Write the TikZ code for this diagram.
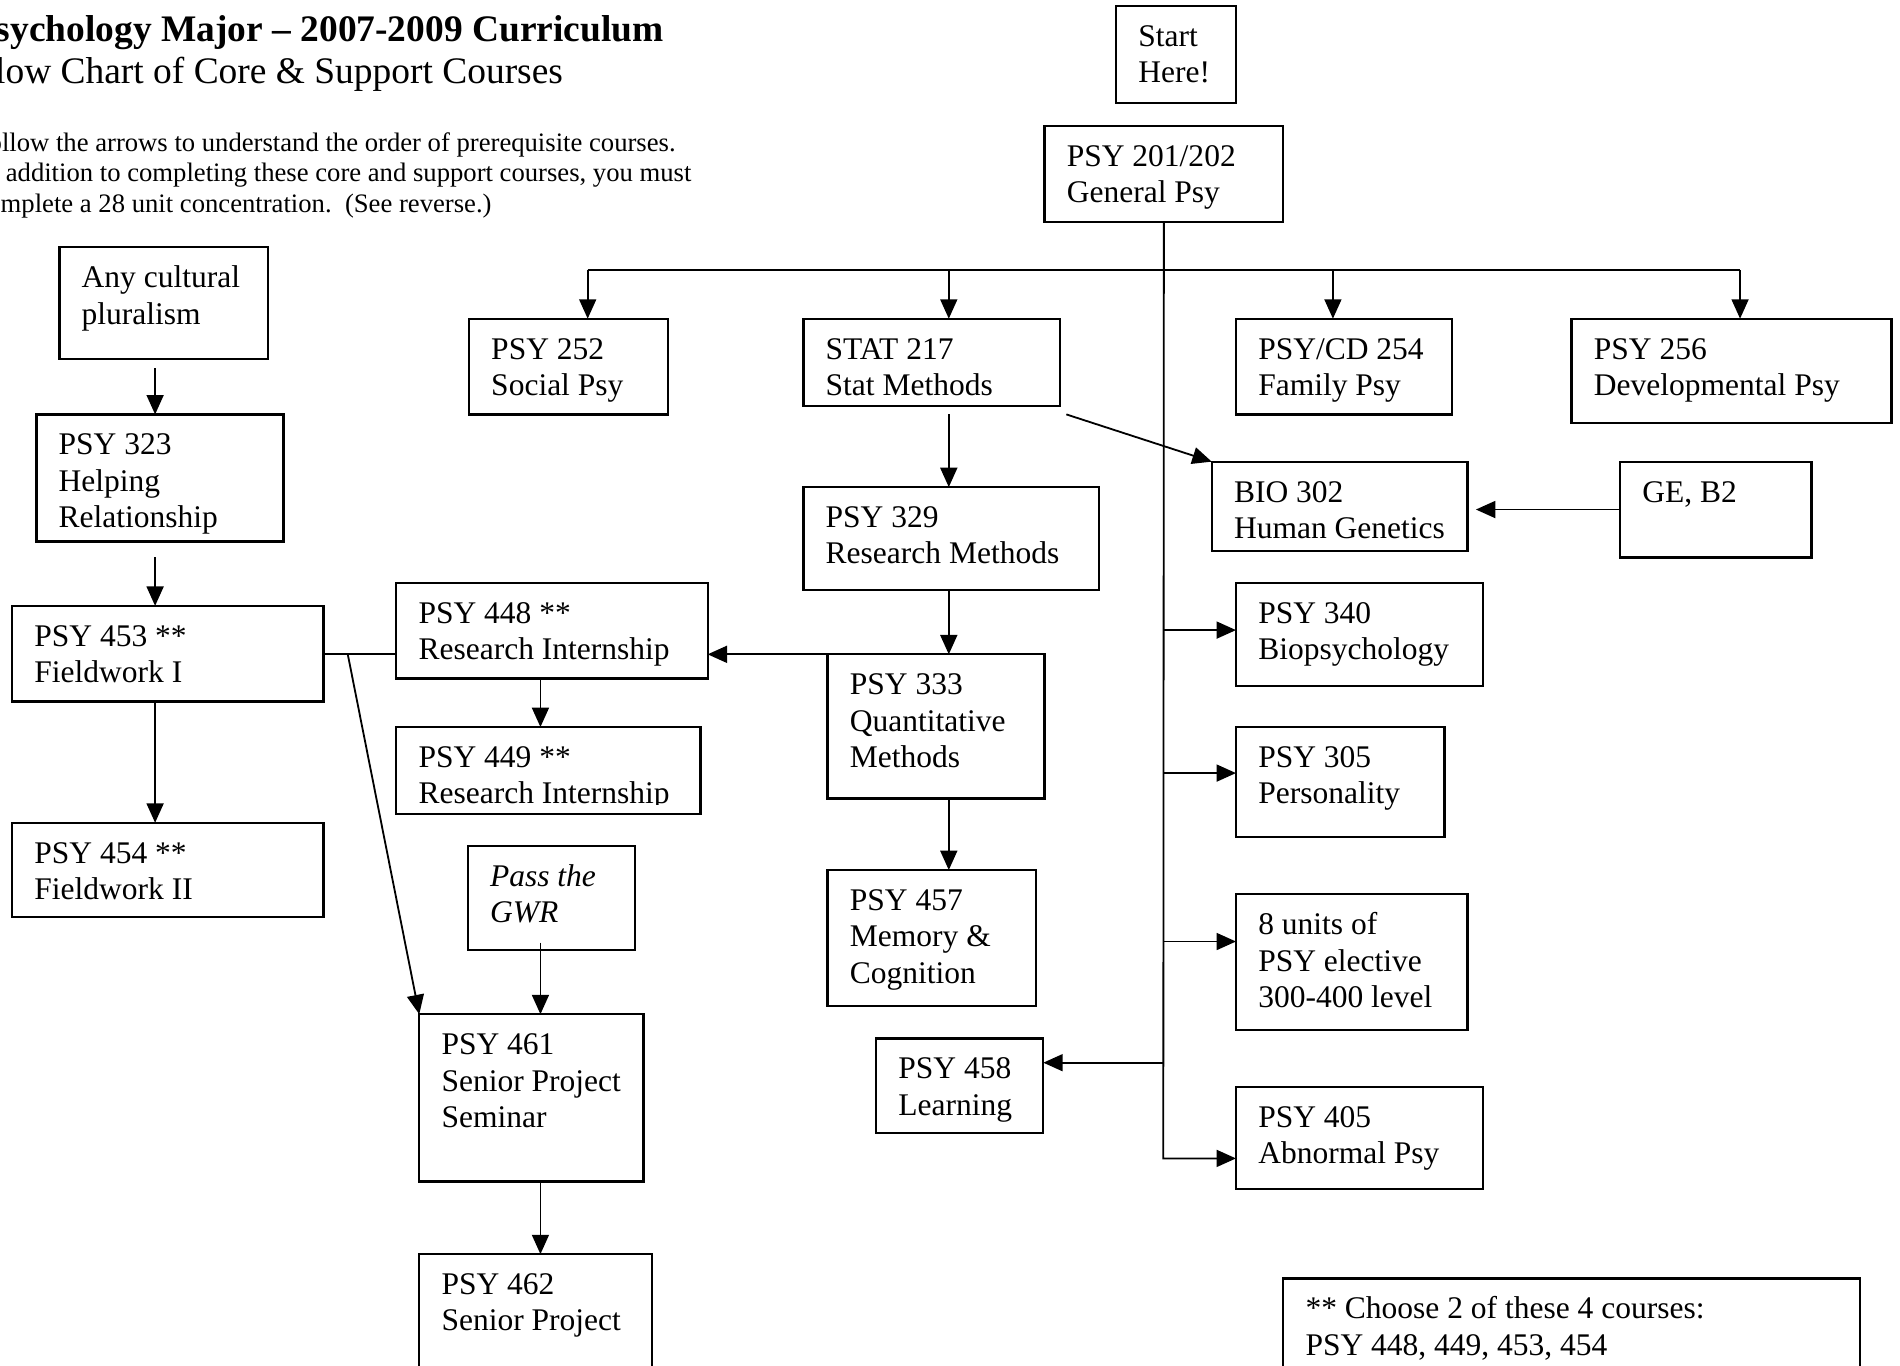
\documentclass[tikz,border=0pt]{standalone}
\usepackage{fontspec}
\setmainfont{Liberation Serif}
\usetikzlibrary{arrows.meta,calc}
\newcommand\fs{\fontsize{13pt}{15pt}\selectfont}
\newcommand\cbox[6]{%
  \node[bx, minimum width=#4*0.5pt, minimum height=#5*0.5pt] (#1) at (#2,#3) {};
  \node[tx] (#1t) at ($(#1.north west)+(18,12)$) {\strut #6};}
\tikzset{
  bx/.style={draw, line width=0.95pt, anchor=north west, inner sep=0pt, outer sep=0pt},
  tx/.style={anchor=north west, inner sep=0pt, align=left, font=\fs},
  ln/.style={line width=0.75pt},
  ar/.style={ln, -{Triangle[length=8pt,width=7pt]}},
}
\begin{document}
\begin{tikzpicture}[x=0.5pt,y=-0.5pt]
\useasboundingbox[fill=white] (0,0) rectangle (1568,1127);
% titles
\node[anchor=base east, inner sep=0pt, font=\fontsize{15.45pt}{17.5pt}\selectfont\bfseries] (title) at (548,34) {Psychology Major -- 2007-2009 Curriculum};
\node[anchor=base east, inner sep=0pt, font=\fontsize{15.45pt}{17.5pt}\selectfont] (subtitle) at (465,69) {Flow Chart of Core \& Support Courses};
\node[anchor=base east, inner sep=0pt, font=\fontsize{11pt}{12.5pt}\selectfont] (ins1) at (558,125) {Follow the arrows to understand the order of prerequisite courses.};
\node[anchor=base east, inner sep=0pt, font=\fontsize{11pt}{12.5pt}\selectfont] (ins2) at (571,150) {In addition to completing these core and support courses, you must};
\node[anchor=base east, inner sep=0pt, font=\fontsize{11pt}{12.5pt}\selectfont] (ins3) at (406,175) {complete a 28 unit concentration.\ \ (See reverse.)};
% boxes
\cbox{start}{921}{5}{99}{80}{Start\\Here!}
\cbox{p201}{862}{104}{197}{79}{PSY 201/202\\General Psy}
\cbox{p252}{387}{263}{164}{79}{PSY 252\\Social Psy}
\cbox{stat}{663}{263}{212}{72}{STAT 217\\Stat Methods}
\cbox{p254}{1020}{263}{178}{79}{PSY/CD 254\\Family Psy}
\cbox{p256}{1297}{263}{264}{86}{PSY 256\\Developmental Psy}
\cbox{bio}{1000}{381}{211}{74}{BIO 302\\Human Genetics}
\cbox{ge}{1337}{381}{158}{79}{GE, B2}
\cbox{p329}{663}{402}{244}{85}{PSY 329\\Research Methods}
\cbox{p333}{683}{540}{179}{119}{PSY 333\\Quantitative\\Methods}
\cbox{p448}{327}{481}{257}{79}{PSY 448 **\\Research Internship}
\node[bx, minimum width=251*0.5pt, minimum height=72*0.5pt] (p449) at (327,600) {};
\begin{scope}
  \clip (327,600) rectangle (578,664);
  \node[tx] (p449t) at ($(p449.north west)+(18,12)$) {\strut PSY 449 **\\Research Internship};
\end{scope}
\cbox{cult}{49}{204}{172}{92}{Any cultural\\pluralism}
\cbox{p323}{30}{342}{204}{105}{PSY 323\\Helping\\Relationship}
\cbox{p453}{10}{500}{257}{79}{PSY 453 **\\Fieldwork I}
\cbox{p454}{10}{679}{257}{78}{PSY 454 **\\Fieldwork II}
\cbox{gwr}{386}{698}{138}{86}{\textit{Pass the}\\\textit{GWR}}
\cbox{p461}{346}{837}{185}{138}{PSY 461\\Senior Project\\Seminar}
\cbox{p462}{346}{1035}{192}{130}{PSY 462\\Senior Project}
\cbox{p457}{683}{718}{172}{112}{PSY 457\\Memory \&\\Cognition}
\cbox{p458}{723}{857}{138}{78}{PSY 458\\Learning}
\cbox{p340}{1020}{481}{204}{85}{PSY 340\\Biopsychology}
\cbox{p305}{1020}{600}{172}{91}{PSY 305\\Personality}
\cbox{p8u}{1020}{738}{191}{112}{8 units of\\PSY elective\\300-400 level}
\cbox{p405}{1020}{897}{204}{84}{PSY 405\\Abnormal Psy}
\cbox{note}{1059}{1055}{476}{110}{** Choose 2 of these 4 courses:\\PSY 448, 449, 453, 454}
% junction coordinates
\coordinate (bus252) at (485,223);
\coordinate (bus217) at (783,223);
\coordinate (bus254) at (1100,223);
\coordinate (bus256) at (1436,223);
\coordinate (j340) at (960,520);
\coordinate (j305) at (960,638);
\coordinate (j8u) at (960,777);
\coordinate (j458) at (960,877);
\coordinate (j405) at (960,956);
\coordinate (sbio) at (880,342);
\coordinate (c329) at (783,342);
\coordinate (c449) at (446,560);
\coordinate (cgwr) at (446,778);
\coordinate (c462) at (446,975);
\coordinate (ccult) at (128,304);
\coordinate (c323) at (128,460);
\coordinate (c453) at (128,579);
\coordinate (b461) at (287,540);
% connectors
\draw[ar] (p201.south) -- (j405) -- (j405 -| p405.west);
\draw[ln] (bus252) -- (bus256);
\draw[ar] (bus252) -- (bus252 |- p252.north);
\draw[ar] (bus217) -- (bus217 |- stat.north);
\draw[ar] (bus254) -- (bus254 |- p254.north);
\draw[ar] (bus256) -- (bus256 |- p256.north);
\draw[ar] (j340) -- (j340 -| p340.west);
\draw[ar] (j305) -- (j305 -| p305.west);
\draw[ar] (j8u) -- (j8u -| p8u.west);
\draw[ar] (j458) -- (j458 -| p458.east);
\draw[ar] (sbio) -- (bio.north west);
\draw[ar, shorten >=3.5pt] (ge.west) -- (ge.west -| bio.east);
\draw[ar] (c329) -- (c329 |- p329.north);
\draw[ar] (c329 |- p329.south) -- (c329 |- p333.north);
\draw[ar] (c329 |- p333.south) -- (c329 |- p457.north);
\draw[ar] (p333.north west) -- (p333.north west -| p448.east);
\draw[ar] (c449) -- (c449 |- p449.north);
\draw[ln] (p453.east) -- (p453.east -| p448.west);
\draw[ar] (b461) -- (p461.north west);
\draw[ar] (cgwr) -- (cgwr |- p461.north);
\draw[ar] (c462) -- (c462 |- p462.north);
\draw[ar] (ccult) -- (ccult |- p323.north);
\draw[ar] (c323) -- (c323 |- p453.north);
\draw[ar] (c453) -- (c453 |- p454.north);
\end{tikzpicture}
\end{document}
